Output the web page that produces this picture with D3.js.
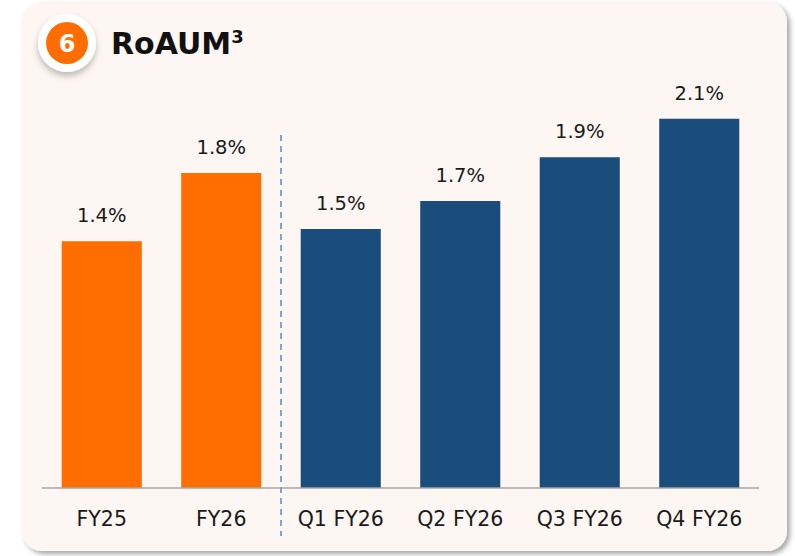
<!DOCTYPE html>
<meta charset="utf-8">
<style>
  body { margin: 0; background: #ffffff; }
  svg { display: block; }
  .lbl { font-family: "DejaVu Sans", sans-serif; font-size: 19.5px; fill: #1a1a1a; }
  .cat { font-family: "DejaVu Sans", sans-serif; font-size: 20.5px; fill: #1a1a1a; }
  .title { font-family: "DejaVu Sans", sans-serif; font-weight: 700; font-size: 30px; fill: #111; }
</style>
<body>
<div id="chart"></div>
<script src="https://d3js.org/d3.v7.min.js"></script>
<script>
  // data
  var categories = ["FY25", "FY26", "Q1 FY26", "Q2 FY26", "Q3 FY26", "Q4 FY26"];
  var values = [1.41, 1.80, 1.48, 1.64, 1.89, 2.11];
  var valueLabels = ["1.4%", "1.8%", "1.5%", "1.7%", "1.9%", "2.1%"];
  var barColors = ["#ff6d00", "#ff6d00", "#1a4d7c", "#1a4d7c", "#1a4d7c", "#1a4d7c"];

  var W = 795, H = 556;
  var svg = d3.select("#chart").append("svg")
      .attr("width", W).attr("height", H);

  var defs = svg.append("defs");
  var f = defs.append("filter").attr("id", "cardShadow")
      .attr("x", "-5%").attr("y", "-5%").attr("width", "110%").attr("height", "110%");
  f.append("feDropShadow").attr("dx", 3).attr("dy", 3).attr("stdDeviation", 2.5)
      .attr("flood-color", "#000").attr("flood-opacity", 0.35);
  var f2 = defs.append("filter").attr("id", "badgeShadow")
      .attr("x", "-50%").attr("y", "-50%").attr("width", "200%").attr("height", "200%");
  f2.append("feDropShadow").attr("dx", 0).attr("dy", 4).attr("stdDeviation", 3)
      .attr("flood-color", "#000").attr("flood-opacity", 0.25);

  // card
  svg.append("rect")
      .attr("x", 22).attr("y", 2).attr("width", 765).attr("height", 549)
      .attr("rx", 20).attr("ry", 20)
      .attr("fill", "#fdf6f2")
      .attr("filter", "url(#cardShadow)");

  // badge
  svg.append("circle").attr("cx", 67).attr("cy", 43).attr("r", 29)
      .attr("fill", "#fff").attr("filter", "url(#badgeShadow)");
  svg.append("circle").attr("cx", 67).attr("cy", 43).attr("r", 21)
      .attr("fill", "#ff6d00");
  svg.append("text").attr("x", 67).attr("y", 52)
      .attr("text-anchor", "middle")
      .style("font-family", "DejaVu Sans, sans-serif").style("font-weight", 700)
      .style("font-size", "24px").style("fill", "#fff")
      .text("6");

  var title = svg.append("text").attr("class", "title").attr("x", 111).attr("y", 54);
  title.append("tspan").text("RoAUM");
  title.append("tspan").attr("dy", -11).style("font-size", "18px").text("3");

  // scales
  var x = d3.scaleBand()
      .domain(categories)
      .range([42, 759])
      .paddingInner(0.33)
      .paddingOuter(0.165);

  var y = d3.scaleLinear().domain([0, 2.4]).range([488, 68]);

  // bars
  svg.selectAll("rect.bar")
      .data(categories)
      .enter().append("rect")
      .attr("class", "bar")
      .attr("x", function(d) { return x(d); })
      .attr("width", x.bandwidth())
      .attr("y", function(d, i) { return y(values[i]); })
      .attr("height", function(d, i) { return y(0) - y(values[i]); })
      .attr("fill", function(d, i) { return barColors[i]; });

  // value labels
  svg.selectAll("text.lbl")
      .data(categories)
      .enter().append("text")
      .attr("class", "lbl")
      .attr("text-anchor", "middle")
      .attr("x", function(d) { return x(d) + x.bandwidth() / 2; })
      .attr("y", function(d, i) { return y(values[i]) - 19; })
      .text(function(d, i) { return valueLabels[i]; });

  // x axis
  var axis = svg.append("g")
      .attr("transform", "translate(0," + y(0) + ")")
      .call(d3.axisBottom(x).tickSize(0).tickPadding(23));
  axis.select(".domain").attr("stroke", "#a6a6a6").attr("stroke-width", 1.5)
      .attr("d", "M42,0H759");
  axis.selectAll(".tick text").attr("class", "cat").attr("font-family", null).attr("font-size", null);

  // divider between annual and quarterly
  var divX = (x("FY26") + x.bandwidth() + x("Q1 FY26")) / 2;
  svg.append("line")
      .attr("x1", divX).attr("x2", divX)
      .attr("y1", 135).attr("y2", 536)
      .attr("stroke", "#7ea6d4").attr("stroke-width", 2)
      .attr("stroke-dasharray", "6,5");
</script>
</body>
